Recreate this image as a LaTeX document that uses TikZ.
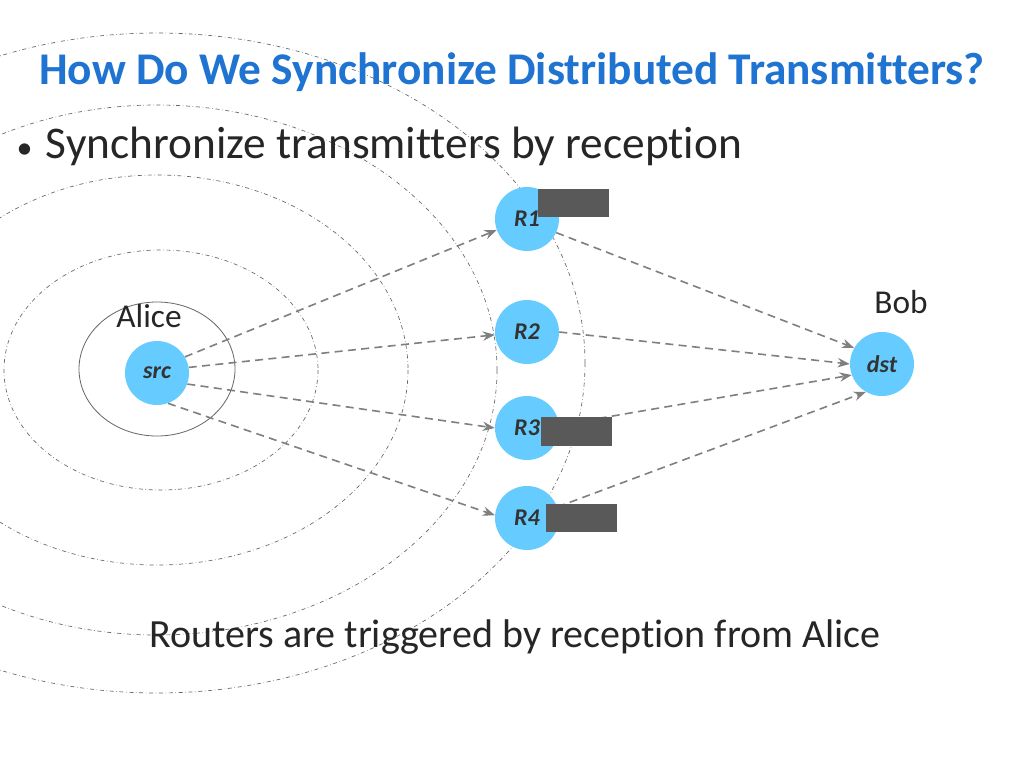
\documentclass[tikz,border=0pt]{standalone}
\usepackage{fontspec}
\setmainfont[Ligatures={NoCommon}]{Carlito}
\usetikzlibrary{arrows.meta}
\definecolor{nodeblue}{HTML}{66CCFF}
\definecolor{titleblue}{HTML}{1F73D1}
\definecolor{arr}{HTML}{7F7F7F}
\definecolor{blk}{HTML}{595959}
\begin{document}
\begin{tikzpicture}[x=0.75pt,y=-0.75pt,
  nd/.style={circle,fill=nodeblue,minimum size=48pt,inner sep=0pt,font=\fontsize{18}{20}\selectfont\bfseries\itshape,text=black!80},
  ring/.style={draw=black!60,dash dot,line width=0.5pt},
  conn/.style={draw=arr,dashed,line width=1.2pt,dash pattern=on 6pt off 4pt,-{Stealth[length=9pt,width=7pt]}},
  blkbox/.style={fill=blk}]
\useasboundingbox (0,0) rectangle (1024,768);
\fill[white] (0,0) rectangle (1024,768);
\draw[black!60,line width=0.6pt] (157,369) ellipse [x radius=78, y radius=67];
\draw[ring] (161,370) ellipse [x radius=157, y radius=120];
\draw[ring] (157,370) ellipse [x radius=251, y radius=195];
\draw[ring] (157,370) ellipse [x radius=340, y radius=265];
\draw[ring] (157,363) ellipse [x radius=428, y radius=330];
\node[font=\fontsize{34}{40}\selectfont\bfseries,text=titleblue] (title) at (512,72) {How Do We Synchronize Distributed Transmitters?};
\node[anchor=west,font=\fontsize{34}{40}\selectfont,text=black!85] (bullet) at (12,146) {{\fontsize{24}{28}\selectfont•}\hspace{10pt}Synchronize transmitters by reception};
\node[nd] (src) at (157,373) {src};
\node[nd] (r1) at (527,219) {R1};
\node[nd] (r2) at (527,332) {R2};
\node[nd] (r3) at (527,428) {R3};
\node[nd] (r4) at (527,518) {R4};
\node[nd] (dst) at (882,364) {dst};
\node[font=\fontsize{25}{30}\selectfont,text=black!85] (alice) at (149,316) {Alice};
\node[font=\fontsize{25}{30}\selectfont,text=black!85] (bob) at (901,302) {Bob};
\node[font=\fontsize{30}{36}\selectfont,text=black!85] (cap) at (515,637) {Routers are triggered by reception from Alice};
\draw[conn] (src.30) -- (r1.200);
\draw[conn] (src.10) -- (r2.185);
\draw[conn] (src.-20) -- (r3.180);
\draw[conn] (src.-70) -- (r4.175);
\draw[conn] (r1.-25) -- (dst.150);
\draw[conn] (r2.0) -- (dst.180);
\draw[conn] (r3.5) -- (dst.200);
\draw[conn] (r4.20) -- (dst.240);
\fill[blkbox] (538,189) rectangle (609,217);
\fill[blkbox] (541,417) rectangle (612,446);
\fill[blkbox] (546,504) rectangle (617,532);
\end{tikzpicture}
\end{document}
